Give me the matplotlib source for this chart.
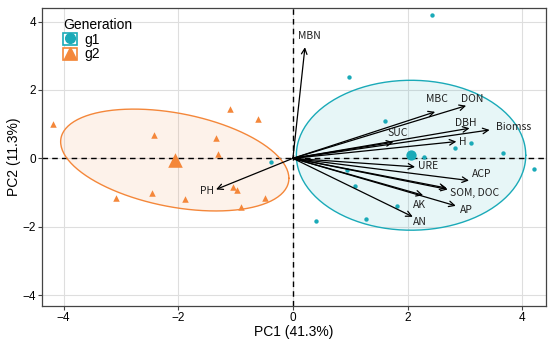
import numpy as np
import matplotlib
matplotlib.use("Agg")
import matplotlib.pyplot as plt
from matplotlib.patches import Rectangle
from matplotlib.lines import Line2D
from matplotlib.legend_handler import HandlerTuple

plt.rcParams['font.family'] = ['Liberation Sans', 'DejaVu Sans']

# ---- data ----
g1_x = [2.43, 0.98, 1.60, 2.82, 3.11, 2.28, 3.67, 4.20, 0.94, 1.08, 1.82, 1.27, 0.41, -0.38]
g1_y = [4.19, 2.37, 1.08, 0.30, 0.44, 0.05, 0.15, -0.31, -0.34, -0.80, -1.40, -1.78, -1.83, -0.12]
g2_x = [-4.18, -1.09, -0.61, -2.42, -1.34, -1.31, -2.45, -3.09, -1.88, -1.05, -0.98, -0.90, -0.49]
g2_y = [1.00, 1.44, 1.14, 0.69, 0.58, 0.12, -1.01, -1.15, -1.20, -0.83, -0.92, -1.43, -1.17]
centroid_g1 = [2.06, 0.09]
centroid_g2 = [-2.06, -0.05]
ellipse_cov_g1 = [[4.0, 0.0], [0.0, 4.81]]
ellipse_cov_g2 = [[3.96, -1.065], [-1.065, 2.22]]

variables = ["MBN", "MBC", "DON", "DBH", "Biomss", "SUC", "H", "URE", "ACP",
             "SOM", "DOC", "AP", "AK", "AN", "PH"]
load_x = [0.21, 2.48, 3.02, 3.08, 3.43, 1.75, 2.85, 2.13, 3.07, 2.70, 2.68, 2.84, 2.27, 2.09, -1.34]
load_y = [3.25, 1.36, 1.54, 0.88, 0.83, 0.47, 0.49, -0.25, -0.65, -0.91, -0.87, -1.39, -1.08, -1.71, -0.91]
label_text = ["MBN", "MBC", "DON", "DBH", "Biomss", "SUC", "H", "URE", "ACP",
              "SOM, DOC", "AP", "AK", "AN", "PH"]
label_x = [0.28, 2.52, 3.13, 3.02, 3.84, 1.82, 2.97, 2.36, 3.30, 3.17, 3.02, 2.20, 2.22, -1.50]
label_y = [3.58, 1.73, 1.73, 1.04, 0.92, 0.73, 0.49, -0.23, -0.47, -1.00, -1.51, -1.37, -1.85, -0.96]

groups = ["g1", "g2"]
teal = "#1AAAB8"
orange = "#F4873A"

# ---- figure ----
fig = plt.figure(figsize=(5.5, 3.43), dpi=100)
ax = fig.add_axes([0.0769, 0.1079, 0.9155, 0.868])
ax.set_xlim(-4.37, 4.41)
ax.set_ylim(-4.32, 4.39)
ticks = [-4, -2, 0, 2, 4]
ax.set_xticks(ticks)
ax.set_yticks(ticks)
ax.set_xticklabels(["\u22124", "\u22122", "0", "2", "4"])
ax.set_yticklabels(["\u22124", "\u22122", "0", "2", "4"])
ax.grid(True, color="#DEDEDE", lw=0.8)
ax.set_axisbelow(True)
for s in ax.spines.values():
    s.set_color("#444444")
    s.set_linewidth(0.9)
ax.tick_params(length=3, width=0.8, color="#444444", labelsize=8.5, labelcolor="black", pad=1.5)

ax.axhline(0, color="black", lw=1.0, ls=(0, (4, 3)), zorder=1.5)
ax.axvline(0, color="black", lw=1.0, ls=(0, (4, 3)), zorder=1.5)

t = np.linspace(0, 2 * np.pi, 200)
circ = np.vstack([np.cos(t), np.sin(t)])
for cen, cov, col in [(centroid_g1, ellipse_cov_g1, teal), (centroid_g2, ellipse_cov_g2, orange)]:
    L = np.linalg.cholesky(np.array(cov))
    pts = L @ circ + np.array(cen)[:, None]
    ax.fill(pts[0], pts[1], color=col, alpha=0.1, lw=0, zorder=1)
    ax.plot(pts[0], pts[1], color=col, lw=1.0, zorder=2)

ax.scatter(g1_x, g1_y, s=10, color=teal, marker="o", lw=0, zorder=3)
ax.scatter(g2_x, g2_y, s=22, color=orange, marker="^", lw=0, zorder=3)
ax.scatter([centroid_g1[0]], [centroid_g1[1]], s=55, color=teal, marker="o", lw=0, zorder=3)
ax.scatter([centroid_g2[0]], [centroid_g2[1]], s=110, color=orange, marker="^", lw=0, zorder=3)

for lx, ly in zip(load_x, load_y):
    ax.annotate("", xy=(lx, ly), xytext=(0, 0),
                arrowprops=dict(arrowstyle="->", color="black", lw=0.9,
                                mutation_scale=10, shrinkA=0, shrinkB=0),
                zorder=4)
for txt, tx, ty in zip(label_text, label_x, label_y):
    ax.text(tx, ty, txt, ha="center", va="center", fontsize=7.5,
            family=["Noto Sans CJK SC", "DejaVu Sans"], color="#222222", zorder=5)

ax.set_xlabel("PC1 (41.3%)", fontsize=10, labelpad=0.5)
ax.set_ylabel("PC2 (11.3%)", fontsize=10, labelpad=1)

handles = []
for col, mk, ms in [(teal, "o", 7), (orange, "^", 8)]:
    box = Rectangle((0, 0), 1, 1, facecolor="white", edgecolor=col, lw=1.2)
    mark = Line2D([], [], marker=mk, color=col, ls="", markersize=ms)
    handles.append((box, mark))
leg = ax.legend(handles, groups, title="Generation", loc="upper left",
                bbox_to_anchor=(0.025, 0.995), frameon=False, fontsize=10,
                title_fontsize=10, handlelength=1.0, handleheight=1.0,
                handletextpad=0.5, labelspacing=0.05, borderaxespad=0.2,
                handler_map={tuple: HandlerTuple(ndivide=1)})
leg._legend_box.align = "left"

fig.savefig("out.png", dpi=100)
